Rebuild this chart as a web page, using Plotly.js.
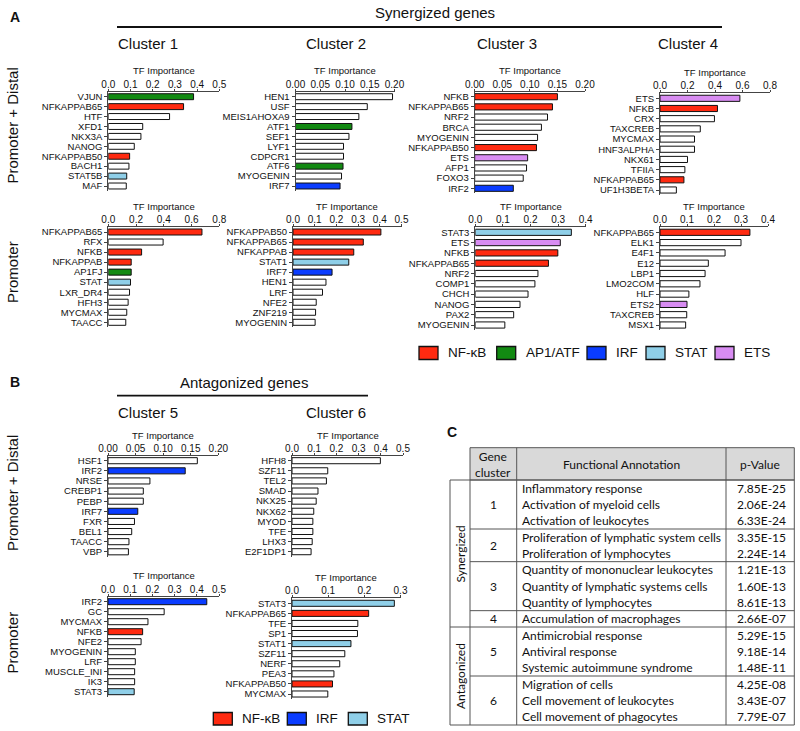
<!DOCTYPE html>
<html><head><meta charset="utf-8">
<script src="https://cdn.plot.ly/plotly-3.0.1.min.js"></script>
<style>html,body{margin:0;padding:0;background:#fff}#chart{width:800px;height:731px}</style>
</head><body><div id="chart"></div>
<script>
// ---------- DATA ----------
// Panel A, Promoter + Distal
const c1pdNames = ['VJUN','NFKAPPAB65','HTF','XFD1','NKX3A','NANOG','NFKAPPAB50','BACH1','STAT5B','MAF'];
const c1pdVals  = [0.384,0.339,0.276,0.155,0.147,0.117,0.096,0.093,0.083,0.081];
const c1pdFam   = ['A','N','','','','','N','','S',''];
const c2pdNames = ['HEN1','USF','MEIS1AHOXA9','ATF1','SEF1','LYF1','CDPCR1','ATF6','MYOGENIN','IRF7'];
const c2pdVals  = [0.196,0.145,0.128,0.114,0.108,0.097,0.097,0.096,0.093,0.090];
const c2pdFam   = ['','','','A','','','','A','','I'];
const c3pdNames = ['NFKB','NFKAPPAB65','NRF2','BRCA','MYOGENIN','NFKAPPAB50','ETS','AFP1','FOXO3','IRF2'];
const c3pdVals  = [0.150,0.141,0.132,0.121,0.114,0.112,0.096,0.094,0.088,0.070];
const c3pdFam   = ['N','N','','','','N','E','','','I'];
const c4pdNames = ['ETS','NFKB','CRX','TAXCREB','MYCMAX','HNF3ALPHA','NKX61','TFIIA','NFKAPPAB65','UF1H3BETA'];
const c4pdVals  = [0.581,0.418,0.396,0.293,0.251,0.251,0.200,0.181,0.174,0.119];
const c4pdFam   = ['E','N','','','','','','','N',''];
// Panel A, Promoter
const c1pNames = ['NFKAPPAB65','RFX','NFKB','NFKAPPAB','AP1FJ','STAT','LXR_DR4','HFH3','MYCMAX','TAACC'];
const c1pVals  = [0.675,0.395,0.240,0.165,0.165,0.160,0.153,0.143,0.133,0.126];
const c1pFam   = ['N','','N','N','A','S','','','',''];
const c2pNames = ['NFKAPPAB50','NFKAPPAB65','NFKAPPAB','STAT1','IRF7','HEN1','LRF','NFE2','ZNF219','MYOGENIN'];
const c2pVals  = [0.405,0.324,0.280,0.257,0.180,0.152,0.136,0.107,0.104,0.102];
const c2pFam   = ['N','N','N','S','I','','','','',''];
const c3pNames = ['STAT3','ETS','NFKB','NFKAPPAB65','NRF2','COMP1','CHCH','NANOG','PAX2','MYOGENIN'];
const c3pVals  = [0.348,0.308,0.299,0.265,0.227,0.216,0.191,0.162,0.139,0.107];
const c3pFam   = ['S','E','N','N','','','','','',''];
const c4pNames = ['NFKAPPAB65','ELK1','E4F1','E12','LBP1','LMO2COM','HLF','ETS2','TAXCREB','MSX1'];
const c4pVals  = [0.333,0.300,0.241,0.179,0.167,0.148,0.107,0.100,0.099,0.095];
const c4pFam   = ['N','','','','','','','E','',''];
// Panel B
const c5pdNames = ['HSF1','IRF2','NRSE','CREBP1','PEBP','IRF7','FXR','BEL1','TAACC','VBP'];
const c5pdVals  = [0.162,0.140,0.076,0.064,0.064,0.054,0.048,0.043,0.038,0.037];
const c5pdFam   = ['','I','','','','I','','','',''];
const c6pdNames = ['HFH8','SZF11','TEL2','SMAD','NKX25','NKX62','MYOD','TFE','LHX3','E2F1DP1'];
const c6pdVals  = [0.398,0.161,0.155,0.117,0.109,0.098,0.094,0.094,0.091,0.086];
const c6pdFam   = ['','','','','','','','','',''];
const c5pNames = ['IRF2','GC','MYCMAX','NFKB','NFE2','MYOGENIN','LRF','MUSCLE_INI','IK3','STAT3'];
const c5pVals  = [0.445,0.253,0.180,0.156,0.149,0.123,0.123,0.120,0.120,0.118];
const c5pFam   = ['I','','','N','','','','','','S'];
const c6pNames = ['STAT3','NFKAPPAB65','TFE','SP1','STAT1','SZF11','NERF','PEA3','NFKAPPAB50','MYCMAX'];
const c6pVals  = [0.283,0.212,0.182,0.181,0.163,0.146,0.132,0.116,0.112,0.099];
const c6pFam   = ['S','N','','','S','','','','N',''];
// Panel C table
const tblCluster = ['1','1','1','2','2','3','3','3','4','5','5','5','6','6','6'];
const tblAnnot = ['Inflammatory response','Activation of myeloid cells','Activation of leukocytes',
  'Proliferation of lymphatic system cells','Proliferation of lymphocytes',
  'Quantity of mononuclear leukocytes','Quantity of lymphatic systems cells','Quantity of lymphocytes',
  'Accumulation of macrophages',
  'Antimicrobial response','Antiviral response','Systemic autoimmune syndrome',
  'Migration of cells','Cell movement of leukocytes','Cell movement of phagocytes'];
const tblPval = ['7.85E-25','2.06E-24','6.33E-24','3.35E-15','2.24E-14','1.21E-13','1.60E-13','8.61E-13',
  '2.66E-07','5.29E-15','9.18E-14','1.48E-11','4.25E-08','3.43E-07','7.79E-07'];
const tblGroups = ['Synergized','Antagonized'];
const tblGroupRows = [9,6];
// legends
const legendA = [['N','NF-κB'],['A','AP1/ATF'],['I','IRF'],['S','STAT'],['E','ETS']];
const legendB = [['N','NF-κB'],['I','IRF'],['S','STAT']];

// ---------- STYLE / LAYOUT ----------
const FAM = {N:'#ff2a10', A:'#128a12', I:'#0a3cff', S:'#8fcfe8', E:'#d88cf2', '':'#ffffff'};
const FONT = 'Liberation Sans, Arial, sans-serif';
const TFONT = 'Lato, Open Sans, sans-serif';
const W = 800, H = 731;
const X = p => p / W, Y = p => 1 - p / H;

const panels = [
  {n:c1pdNames,v:c1pdVals,f:c1pdFam, x0:108.3,x1:219.3,max:0.5,dt:0.1,dec:1, ax:91.7,first:96.7,last:186, ty:71},
  {n:c2pdNames,v:c2pdVals,f:c2pdFam, x0:295.5,x1:394.5,max:0.2,dt:0.05,dec:2, ax:91.7,first:96.7,last:186, ty:71},
  {n:c3pdNames,v:c3pdVals,f:c3pdFam, x0:474.7,x1:585,max:0.2,dt:0.05,dec:2, ax:91.7,first:96.7,last:188.3, ty:71},
  {n:c4pdNames,v:c4pdVals,f:c4pdFam, x0:660,x1:770,max:0.8,dt:0.2,dec:1, ax:93.3,first:98.3,last:190, ty:72},
  {n:c1pNames,v:c1pVals,f:c1pFam, x0:108.3,x1:219.3,max:0.8,dt:0.2,dec:1, ax:227.3,first:232,last:322.3, ty:206},
  {n:c2pNames,v:c2pVals,f:c2pFam, x0:293,x1:401.5,max:0.5,dt:0.1,dec:1, ax:227.3,first:232,last:322.3, ty:206},
  {n:c3pNames,v:c3pVals,f:c3pFam, x0:475.3,x1:585.7,max:0.4,dt:0.1,dec:1, ax:227.3,first:232.3,last:325, ty:206},
  {n:c4pNames,v:c4pVals,f:c4pFam, x0:660,x1:768,max:0.4,dt:0.1,dec:1, ax:227.3,first:232.3,last:325, ty:206},
  {n:c5pdNames,v:c5pdVals,f:c5pdFam, x0:108,x1:218.3,max:0.2,dt:0.05,dec:2, ax:455.5,first:460.7,last:551.8, ty:435.7},
  {n:c6pdNames,v:c6pdVals,f:c6pdFam, x0:292,x1:403,max:0.5,dt:0.1,dec:1, ax:455.5,first:460.7,last:551.7, ty:435.7},
  {n:c5pNames,v:c5pVals,f:c5pFam, x0:108,x1:219,max:0.5,dt:0.1,dec:1, ax:596.7,first:601.7,last:691.7, ty:575},
  {n:c6pNames,v:c6pVals,f:c6pFam, x0:292,x1:400.5,max:0.3,dt:0.1,dec:1, ax:598.3,first:603.3,last:694, ty:577.3}
];

const data = [];
const layout = {
  width: W, height: H, margin:{l:0,r:0,t:0,b:0}, paper_bgcolor:'#fff', plot_bgcolor:'rgba(0,0,0,0)',
  showlegend:false, hovermode:false, font:{family:FONT, color:'#111'},
  annotations:[], shapes:[]
};

panels.forEach((p, i) => {
  const k = i === 0 ? '' : String(i + 1);
  const n = p.n.length;
  const s = (p.last - p.first) / (n - 1);
  const t = -(p.first - p.ax) / s;
  const bottom = p.last + 0.5 * s;
  data.push({
    type:'bar', orientation:'h', x:p.v, y:p.n, xaxis:'x'+k, yaxis:'y'+k, width:0.6,
    marker:{color:p.f.map(c => FAM[c]), line:{color:'#111', width:1}}
  });
  const tv = [];
  for (let j = 0; j * p.dt <= p.max + 1e-9; j++) tv.push(+(j * p.dt).toFixed(4));
  layout['xaxis'+k] = {
    domain:[X(p.x0), X(p.x1)], range:[0, p.max], anchor:'y'+k, side:'top',
    showline:true, linecolor:'#444', linewidth:1, ticks:'outside', ticklen:2, tickcolor:'#444',
    tickmode:'array', tickvals:tv, ticktext:tv.map(v => v.toFixed(p.dec)), ticklabelstandoff:-3,
    tickfont:{size:10, family:FONT, color:'#111'},
    showgrid:false, zeroline:false, fixedrange:true, automargin:false
  };
  layout['yaxis'+k] = {
    domain:[Y(bottom), Y(p.ax)], range:[n - 0.5, t], anchor:'x'+k, type:'category',
    categoryorder:'array', categoryarray:p.n, tickmode:'array', tickvals:p.n, ticktext:p.n,
    showline:true, linecolor:'#444', linewidth:1, ticks:'outside', ticklen:3, tickcolor:'#444',
    tickfont:{size:9.5, family:FONT, color:'#111'}, showgrid:false, zeroline:false, fixedrange:true, automargin:false
  };
  layout.annotations.push({xref:'paper', yref:'paper', x:X((p.x0 + p.x1) / 2), y:Y(p.ty),
    text:'TF Importance', showarrow:false, xanchor:'center', yanchor:'middle', font:{size:9.5, family:FONT, color:'#111'}});
});

function txt(x, y, text, opt) {
  layout.annotations.push(Object.assign({xref:'paper', yref:'paper', x:X(x), y:Y(y), text, showarrow:false,
    xanchor:'center', yanchor:'middle', font:{size:15, family:FONT, color:'#111'}}, opt || {}));
}
function line(x0, y0, x1, y1, w, c) {
  layout.shapes.push({type:'line', xref:'paper', yref:'paper', x0:X(x0), y0:Y(y0), x1:X(x1), y1:Y(y1),
    line:{color:c || '#111', width:w || 1}});
}
function rect(x0, y0, x1, y1, fill, lc, lw) {
  layout.shapes.push({type:'rect', xref:'paper', yref:'paper', x0:X(x0), y0:Y(y0), x1:X(x1), y1:Y(y1),
    fillcolor:fill, line:{color:lc || '#111', width:lw == null ? 1 : lw}, layer:'below'});
}

// Panel labels and headers
txt(15, 17, '<b>A</b>', {font:{size:14, family:FONT, color:'#111'}});
txt(435, 12, 'Synergized genes');
line(117, 27, 722, 27, 1.8);
[['Cluster 1',148],['Cluster 2',336],['Cluster 3',507],['Cluster 4',688]].forEach(c => txt(c[1], 43, c[0]));
txt(12, 125.5, 'Promoter + Distal', {textangle:-90});
txt(12, 272, 'Promoter', {textangle:-90});

txt(15, 382, '<b>B</b>', {font:{size:14, family:FONT, color:'#111'}});
txt(244, 382, 'Antagonized genes');
line(117, 395.7, 368, 395.7, 1.8);
[['Cluster 5',148.3],['Cluster 6',335.7]].forEach(c => txt(c[1], 412.3, c[0]));
txt(12, 493, 'Promoter + Distal', {textangle:-90});
txt(12, 642.5, 'Promoter', {textangle:-90});

// Legends
const legAx = [419, 496.7, 587, 646, 715];
legendA.forEach((it, j) => {
  rect(legAx[j], 346.5, legAx[j] + 19, 359.5, FAM[it[0]], '#111', 1.3);
  txt(legAx[j] + 27, 352.7, it[1], {xanchor:'left', font:{size:13.5, family:FONT, color:'#111'}});
});
const legBx = [213.3, 287.3, 348.3];
legendB.forEach((it, j) => {
  rect(legBx[j], 712.5, legBx[j] + 19, 725, FAM[it[0]], '#111', 1.3);
  txt(legBx[j] + 27, 718.5, it[1], {xanchor:'left', font:{size:13.5, family:FONT, color:'#111'}});
});

// ---------- TABLE C ----------
txt(451.7, 431.7, '<b>C</b>', {font:{size:14, family:FONT, color:'#111'}});
const tx0 = 450, tc1 = 470, tc2 = 516.7, tc3 = 726, tx1 = 794.3;
const hTop = 447.7, hBot = 480, tBot = 725;
const rh = (tBot - hBot) / tblAnnot.length;
const TC = '#555';
rect(tc1, hTop, tx1, hBot, '#d9d9d9', TC, 1);
rect(tx0, hBot, tx1, tBot, 'rgba(0,0,0,0)', TC, 1);
line(tc1, hBot, tc1, tBot, 1, TC);
line(tc2, hTop, tc2, tBot, 1, TC);
line(tc3, hTop, tc3, tBot, 1, TC);
const tfont = {size:12, family:TFONT, color:'#111'};
txt((tc1 + tc2) / 2, 464, 'Gene<br>cluster', {font:tfont});
txt((tc2 + tc3) / 2, 464, 'Functional Annotation', {font:tfont});
txt((tc3 + tx1) / 2, 464, 'p-Value', {font:tfont});
tblAnnot.forEach((a, r) => {
  const yc = hBot + (r + 0.5) * rh;
  txt(tc2 + 3.5, yc, a, {xanchor:'left', font:tfont});
  txt((tc3 + tx1) / 2 + 1, yc, tblPval[r], {font:tfont});
});
// cluster blocks
let r0 = 0;
const clusters = [...new Set(tblCluster)];
clusters.forEach(c => {
  const cnt = tblCluster.filter(v => v === c).length;
  const y0 = hBot + r0 * rh, y1 = hBot + (r0 + cnt) * rh;
  txt((tc1 + tc2) / 2, (y0 + y1) / 2, c, {font:tfont});
  if (r0 > 0) line(tc1, y0, tx1, y0, 1, TC);
  r0 += cnt;
});
let g0 = 0;
tblGroups.forEach((g, j) => {
  const y0 = hBot + g0 * rh, y1 = hBot + (g0 + tblGroupRows[j]) * rh;
  txt((tx0 + tc1) / 2, (y0 + y1) / 2, g, {textangle:-90, font:tfont});
  if (g0 > 0) line(tx0, y0, tc1, y0, 1, TC);
  g0 += tblGroupRows[j];
});

Plotly.newPlot('chart', data, layout, {staticPlot:true, displayModeBar:false});
</script></body></html>
